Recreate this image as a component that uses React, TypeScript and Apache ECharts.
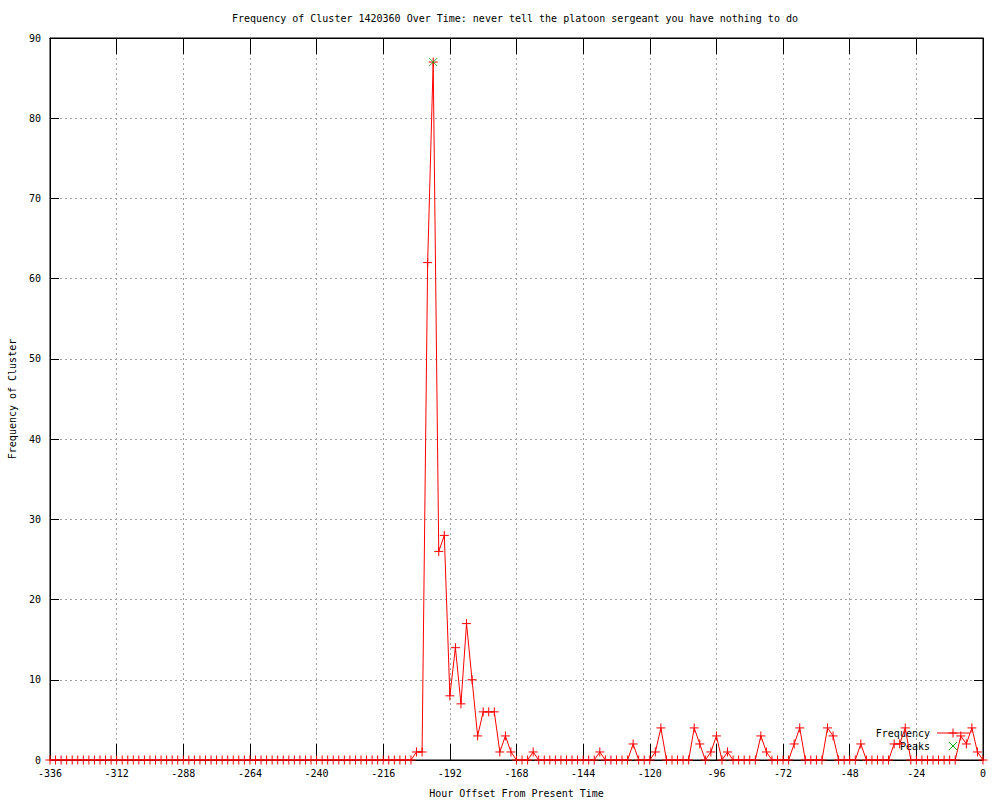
import React, { useEffect, useRef } from "react";
import * as echarts from "echarts";

const TITLE = "Frequency of Cluster 1420360 Over Time: never tell the platoon sergeant you have nothing to do";
const X_NAME = "Hour Offset From Present Time";
const Y_NAME = "Frequency of Cluster";
const HOUR_START = -336;
const HOUR_STEP = 2;
// Frequency values, one every 2 hours from -336 to 0
const FREQUENCY = [
  0, 0, 0, 0, 0, 0, 0, 0,
  0, 0, 0, 0, 0, 0, 0, 0,
  0, 0, 0, 0, 0, 0, 0, 0,
  0, 0, 0, 0, 0, 0, 0, 0,
  0, 0, 0, 0, 0, 0, 0, 0,
  0, 0, 0, 0, 0, 0, 0, 0,
  0, 0, 0, 0, 0, 0, 0, 0,
  0, 0, 0, 0, 0, 0, 0, 0,
  // -208 .. -170
  0, 0, 1, 1, 62, 87, 26, 28, 8, 14, 7, 17, 10, 3, 6, 6, 6, 1, 3, 1,
  // -168 .. -162
  0, 0, 0, 1,
  // -160 .. -140
  0, 0, 0, 0, 0, 0, 0, 0, 0, 0, 0,
  // -138 .. -126
  1, 0, 0, 0, 0, 0, 2,
  // -124 .. -116
  0, 0, 0, 1, 4,
  // -114 .. -92
  0, 0, 0, 0, 0, 4, 2, 0, 1, 3, 0, 1,
  // -90 .. -78
  0, 0, 0, 0, 0, 3, 1,
  // -76 .. -66
  0, 0, 0, 0, 2, 4,
  // -64 .. -54
  0, 0, 0, 0, 4, 3,
  // -52 .. -44
  0, 0, 0, 0, 2,
  // -42 .. -28
  0, 0, 0, 0, 0, 2, 2, 4,
  // -26 .. 0
  0, 0, 0, 0, 0, 0, 0, 0, 0, 3, 2, 4, 1, 0,
];
const PEAK_HOURS = [-198];
const PEAK_VALUES = [87];

const FONT = "DejaVu Sans Mono";
const PLUS = "path://M0,5L10,5M5,0L5,10";
const CROSS = "path://M0,0L10,10M10,0L0,10";

export default function App() {
  const ref = useRef<HTMLDivElement>(null);
  useEffect(() => {
    document.body.style.margin = "0";
    const chart = echarts.init(ref.current!, null, { renderer: "svg" });
    const freqData = FREQUENCY.map((v, i) => [HOUR_START + i * HOUR_STEP, v]);
    const peakData = PEAK_HOURS.map((h, i) => [h, PEAK_VALUES[i]]);
    const splitLine = { show: true, lineStyle: { color: "#a0a0a0", type: [2, 3], width: 1 } };
    const axisLine = { show: true, onZero: false, lineStyle: { color: "#000", width: 1 } };
    const txt = (x: number, y: number, text: string, align: string, size: number) => ({
      type: "text", x, y,
      style: { text, fontFamily: FONT, fontSize: size, fill: "#000", align, verticalAlign: "middle" },
    });
    chart.setOption({
      animation: false,
      backgroundColor: "#fff",
      textStyle: { fontFamily: FONT },
      grid: {
        left: 50, right: 17, top: 38, bottom: 40,
        containLabel: false, outerBoundsMode: "none",
        show: true, borderColor: "#000", borderWidth: 1,
      },
      xAxis: [
        {
          type: "value", min: -336, max: 0, interval: 24, position: "bottom",
          axisLine, axisTick: { show: true, inside: true, length: 16, lineStyle: { color: "#000" } },
          axisLabel: { color: "#000", fontFamily: FONT, fontSize: 10, margin: 8 },
          splitLine,
          name: X_NAME, nameLocation: "middle", nameGap: 28,
          nameTextStyle: { color: "#000", fontFamily: FONT, fontSize: 10 },
        },
        {
          type: "value", min: -336, max: 0, interval: 24, position: "top",
          axisLine, axisTick: { show: true, inside: true, length: 16, lineStyle: { color: "#000" } },
          axisLabel: { show: false }, splitLine: { show: false },
        },
      ],
      yAxis: [
        {
          type: "value", min: 0, max: 90, interval: 10, position: "left",
          axisLine, axisTick: { show: true, inside: true, length: 9, lineStyle: { color: "#000" } },
          axisLabel: { color: "#000", fontFamily: FONT, fontSize: 10, margin: 9 },
          splitLine,
          name: Y_NAME, nameLocation: "middle", nameGap: 33, nameRotate: 90,
          nameTextStyle: { color: "#000", fontFamily: FONT, fontSize: 10 },
        },
        {
          type: "value", min: 0, max: 90, interval: 10, position: "right",
          axisLine, axisTick: { show: true, inside: true, length: 9, lineStyle: { color: "#000" } },
          axisLabel: { show: false }, splitLine: { show: false },
        },
      ],
      series: [
        {
          name: "Frequency", type: "line", data: freqData,
          xAxisIndex: 0, yAxisIndex: 0,
          symbol: PLUS, symbolSize: 9, showAllSymbol: true,
          lineStyle: { color: "#ff0000", width: 1 },
          itemStyle: { color: "transparent", borderColor: "#ff0000", borderWidth: 1 },
          emphasis: { disabled: true },
        },
        {
          name: "Peaks", type: "scatter", data: peakData,
          xAxisIndex: 0, yAxisIndex: 0,
          symbol: CROSS, symbolSize: 8,
          itemStyle: { color: "transparent", borderColor: "#00b000", borderWidth: 1 },
          emphasis: { disabled: true },
          z: 3,
        },
      ],
      graphic: [
        txt(515, 18, TITLE, "center", 10),
        txt(930, 733, "Frequency", "right", 10),
        { type: "line", shape: { x1: 937, y1: 733, x2: 970, y2: 733 }, style: { stroke: "#ff0000", lineWidth: 1 } },
        { type: "line", shape: { x1: 948.5, y1: 733, x2: 957.5, y2: 733 }, style: { stroke: "#ff0000", lineWidth: 1 } },
        { type: "line", shape: { x1: 953, y1: 728.5, x2: 953, y2: 737.5 }, style: { stroke: "#ff0000", lineWidth: 1 } },
        txt(930, 746, "Peaks", "right", 10),
        { type: "line", shape: { x1: 949, y1: 742, x2: 957, y2: 750 }, style: { stroke: "#00b000", lineWidth: 1 } },
        { type: "line", shape: { x1: 957, y1: 742, x2: 949, y2: 750 }, style: { stroke: "#00b000", lineWidth: 1 } },
      ],
    });
    return () => chart.dispose();
  }, []);
  return <div ref={ref} style={{ width: 1000, height: 800 }} />;
}
